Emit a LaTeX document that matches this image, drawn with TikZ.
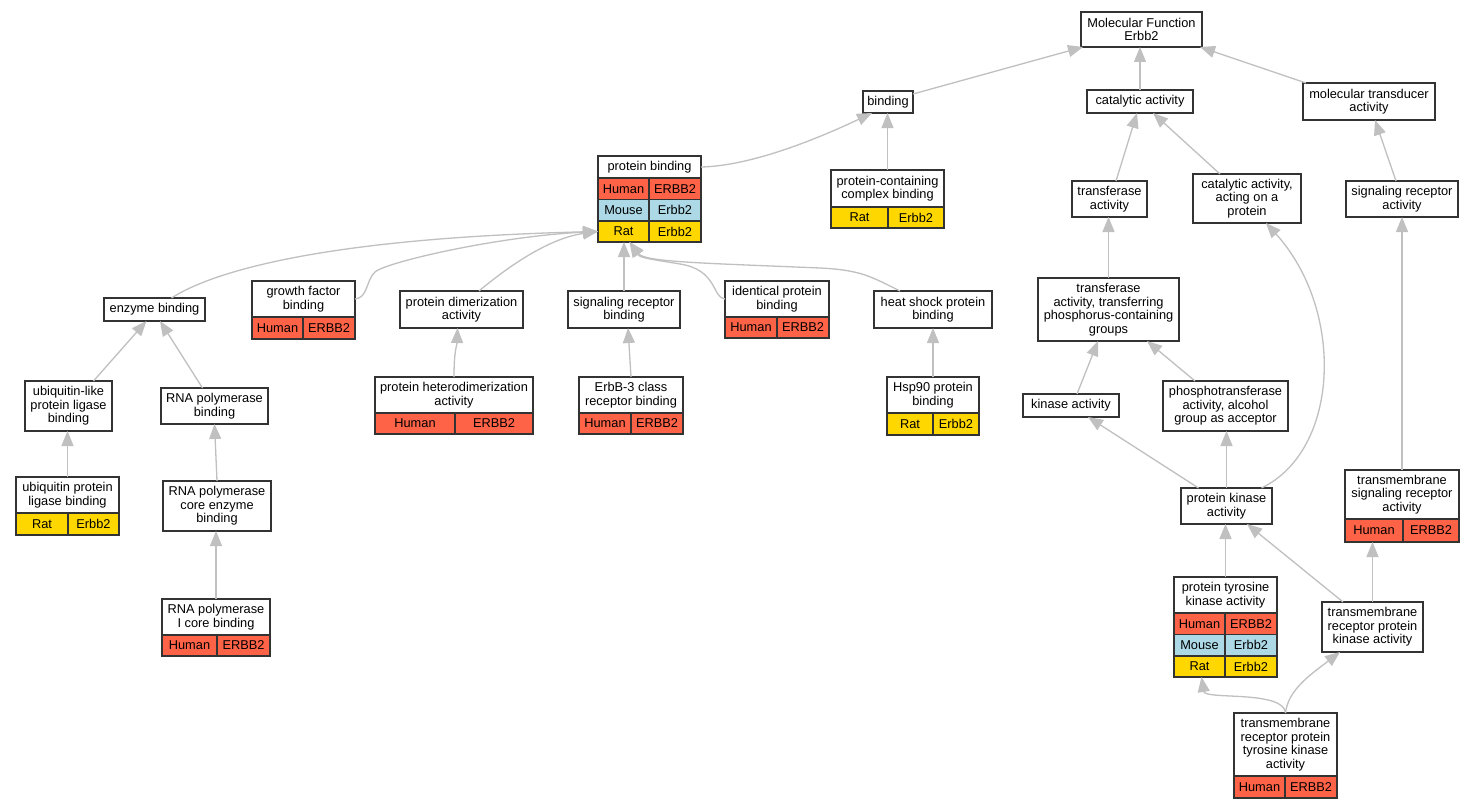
\documentclass[tikz,border=0pt]{standalone}
\usepackage{fontspec}
\setmainfont{Liberation Sans}
\usetikzlibrary{arrows.meta,calc}
\definecolor{hum}{HTML}{FF6347}
\definecolor{mou}{HTML}{ADD8E6}
\definecolor{rat}{HTML}{FFD700}
\definecolor{edgec}{HTML}{C0C0C0}
\definecolor{bord}{HTML}{333333}
\tikzset{
  gbox/.style={draw=bord, line width=1.4pt, fill=white, inner sep=0pt, outer sep=0pt, align=center,
     font=\fontsize{12.8}{13.6}\selectfont},
  gcell/.style={draw=bord, line width=1.2pt, inner sep=0pt, outer sep=0pt, align=center,
     font=\fontsize{12.8}{13.6}\selectfont},
  edge/.style={draw=edgec, line width=1.3pt, -{Triangle[length=15pt,width=12pt]}}
}
\newcommand\mybox[6]{\node[gbox,anchor=north west,minimum width={#4-#2},minimum height={#5-#3}] (#1) at (#2,#3) {#6};}
\newcommand\mycell[7]{\node[gcell,fill=#6,anchor=north west,minimum width={#4-#2},minimum height={#5-#3}] (#1) at (#2,#3) {#7};}
\begin{document}
\begin{tikzpicture}[x=1pt,y=-1pt]
\fill[white] (0,0) rectangle (1475,808);
\useasboundingbox (0,0) rectangle (1475,808);

% plain boxes
\mybox{mf}{1081}{12}{1202}{47}{Molecular Function\\Erbb2}
\mybox{bind}{863}{91}{913}{113}{binding}
\mybox{cat}{1087}{90}{1193}{113}{catalytic activity}
\mybox{mta}{1303}{83}{1435}{120}{molecular transducer\\activity}
\mybox{tra}{1072}{181}{1147}{217}{transferase\\activity}
\mybox{capr}{1193}{174}{1301}{223}{catalytic activity,\\acting on a\\protein}
\mybox{sra}{1346}{181}{1458}{217}{signaling receptor\\activity}
\mybox{enz}{104}{298}{205}{321}{enzyme binding}
\mybox{pda}{400}{291}{523}{328}{protein dimerization\\activity}
\mybox{srb}{568}{291}{680}{328}{signaling receptor\\binding}
\mybox{hsp}{874}{291}{992}{328}{heat shock protein\\binding}
\mybox{ull}{25}{381}{112}{431}{ubiquitin-like\\protein ligase\\binding}
\mybox{rpb}{161}{388}{268}{424}{RNA polymerase\\binding}
\mybox{rpc}{163}{481}{271}{531}{RNA polymerase\\core enzyme\\binding}
\mybox{tpc}{1038}{278}{1179}{341}{transferase\\activity, transferring\\phosphorus-containing\\groups}
\mybox{kin}{1023}{394}{1119}{417}{kinase activity}
\mybox{pho}{1163}{381}{1288}{431}{phosphotransferase\\activity, alcohol\\group as acceptor}
\mybox{pka}{1181}{488}{1272}{524}{protein kinase\\activity}
\mybox{trpk}{1322}{602}{1423}{652}{transmembrane\\receptor protein\\kinase activity}

% tables
\mybox{pb}{598}{156}{701}{178}{protein binding}
\mycell{pb1a}{598}{178}{649}{199.5}{hum}{Human}
\mycell{pb1b}{649}{178}{701}{199.5}{hum}{ERBB2}
\mycell{pb2a}{598}{199.5}{649}{221}{mou}{Mouse}
\mycell{pb2b}{649}{199.5}{701}{221}{mou}{Erbb2}
\mycell{pb3a}{598}{221}{649}{242}{rat}{Rat}
\mycell{pb3b}{649}{221}{701}{242}{rat}{Erbb2}

\mybox{pccb}{831}{170}{944}{207}{protein-containing\\complex binding}
\mycell{pccb1a}{831}{207}{888}{228}{rat}{Rat}
\mycell{pccb1b}{888}{207}{944}{228}{rat}{Erbb2}

\mybox{gfb}{252}{281}{355}{317}{growth factor\\binding}
\mycell{gfb1a}{252}{317}{303}{339}{hum}{Human}
\mycell{gfb1b}{303}{317}{355}{339}{hum}{ERBB2}

\mybox{ipb}{725}{281}{829}{317}{identical protein\\binding}
\mycell{ipb1a}{725}{317}{777}{338}{hum}{Human}
\mycell{ipb1b}{777}{317}{829}{338}{hum}{ERBB2}

\mybox{phd}{375}{377}{533}{413}{protein heterodimerization\\activity}
\mycell{phd1a}{375}{413}{455}{434}{hum}{Human}
\mycell{phd1b}{455}{413}{533}{434}{hum}{ERBB2}

\mybox{erb}{579}{377}{683}{413}{ErbB-3 class\\receptor binding}
\mycell{erb1a}{579}{413}{631}{434}{hum}{Human}
\mycell{erb1b}{631}{413}{683}{434}{hum}{ERBB2}

\mybox{hspn}{887}{377}{979}{413}{Hsp90 protein\\binding}
\mycell{hspn1a}{887}{413}{933}{435}{rat}{Rat}
\mycell{hspn1b}{933}{413}{979}{435}{rat}{Erbb2}

\mybox{upl}{16}{477}{119}{513}{ubiquitin protein\\ligase binding}
\mycell{upl1a}{16}{513}{68}{535}{rat}{Rat}
\mycell{upl1b}{68}{513}{119}{535}{rat}{Erbb2}

\mybox{rpi}{162}{599}{270}{635}{RNA polymerase\\I core binding}
\mycell{rpi1a}{162}{635}{217}{656}{hum}{Human}
\mycell{rpi1b}{217}{635}{270}{656}{hum}{ERBB2}

\mybox{tsra}{1345}{470}{1459}{519}{transmembrane\\signaling receptor\\activity}
\mycell{tsra1a}{1345}{519}{1403}{542}{hum}{Human}
\mycell{tsra1b}{1403}{519}{1459}{542}{hum}{ERBB2}

\mybox{ptk}{1174}{577}{1277}{613}{protein tyrosine\\kinase activity}
\mycell{ptk1a}{1174}{613}{1225}{634.5}{hum}{Human}
\mycell{ptk1b}{1225}{613}{1277}{634.5}{hum}{ERBB2}
\mycell{ptk2a}{1174}{634.5}{1225}{656}{mou}{Mouse}
\mycell{ptk2b}{1225}{634.5}{1277}{656}{mou}{Erbb2}
\mycell{ptk3a}{1174}{656}{1225}{677}{rat}{Rat}
\mycell{ptk3b}{1225}{656}{1277}{677}{rat}{Erbb2}

\mybox{trptk}{1234}{713}{1337}{776}{transmembrane\\receptor protein\\tyrosine kinase\\activity}
\mycell{trptk1a}{1234}{776}{1285}{798}{hum}{Human}
\mycell{trptk1b}{1285}{776}{1337}{798}{hum}{ERBB2}

% edges right part
\draw[edge] ([yshift=-3pt]bind.north east) -- ([xshift=2pt]mf.south west);
\draw[edge] (cat.north) -- (cat.north |- mf.south);
\draw[edge] ([xshift=3pt]mta.north west) -- ([xshift=-2pt]mf.south east);
\draw[edge] (pb.east) .. controls (750,166) and (815,140) .. ([xshift=9pt]bind.south west);
\draw[edge] (pccb.north) -- (pccb.north |- bind.south);
\draw[edge] ([xshift=6.5pt]tra.north) -- ([xshift=-3pt]cat.south);
\draw[edge] ([xshift=-27pt]capr.north) -- ([xshift=13pt]cat.south);
\draw[edge] ([xshift=-6pt]sra.north) -- ([xshift=6pt]mta.south);
\draw[edge] (tpc.north) -- (tpc.north |- tra.south);
\draw[edge] ([xshift=6pt]kin.north) -- ([xshift=-10.5pt]tpc.south);
\draw[edge] ([xshift=-30.5pt]pho.north) -- ([xshift=38.5pt]tpc.south);
\draw[edge] ([xshift=-28pt]pka.north) -- ([xshift=17pt]kin.south);
\draw[edge] (pka.north) -- (pka.north |- pho.south);
\draw[edge] ([xshift=35pt]pka.north) .. controls (1340,450) and (1345,310) .. ([xshift=19pt]capr.south);
\draw[edge] (tsra.north) -- (tsra.north |- sra.south);
\draw[edge] (ptk.north) -- (ptk.north |- pka.south);
\draw[edge] ([xshift=-29.5pt]trpk.north) -- ([xshift=20.5pt]pka.south);
\draw[edge] (trpk.north) -- (trpk.north |- tsra1a.south);
\draw[edge] (trptk.north) .. controls (1284,690) and (1205,700) .. ([xshift=2pt]ptk3a.south);
\draw[edge] (trptk.north) .. controls (1288,690) and (1310,675) .. ([xshift=-32.5pt]trpk.south);

% edges left part
\draw[edge] ([xshift=17pt]enz.north) .. controls (215,270) and (330,238) .. (pb3a.west);
\draw[edge] (gfb.east) .. controls (368,298) and (366,280) .. (375,272) .. controls (386,262) and (500,236) .. (pb3a.west);
\draw[edge] ([xshift=17.5pt]pda.north) .. controls (510,265) and (550,238) .. (pb3a.west);
\draw[edge] (srb.north) -- (srb.north |- pb3a.south);
\draw[edge] (ipb.west) .. controls (712,298) and (718,270) .. (680,264) .. controls (650,259) and (640,258) .. ([xshift=6pt]pb3a.south);
\draw[edge] ([xshift=-33pt]hsp.north) .. controls (870,276) and (860,270) .. (820,268) .. controls (700,263) and (645,262) .. ([xshift=6pt]pb3a.south);
\draw[edge] ([xshift=25pt]ull.north) -- ([xshift=-8pt]enz.south);
\draw[edge] ([xshift=-12pt]rpb.north) -- ([xshift=5.5pt]enz.south);
\draw[edge] (upl.north) -- (upl.north |- ull.south);
\draw[edge] (rpc.north) -- (rpb.south);
\draw[edge] (rpi.north) -- (rpi.north |- rpc.south);
\draw[edge] (phd.north) .. controls (454,350) and (457,345) .. ([xshift=-4pt]pda.south);
\draw[edge] (erb.north) -- ([xshift=4pt]srb.south);
\draw[edge] (hspn.north) -- (hspn.north |- hsp.south);
\end{tikzpicture}
\end{document}
